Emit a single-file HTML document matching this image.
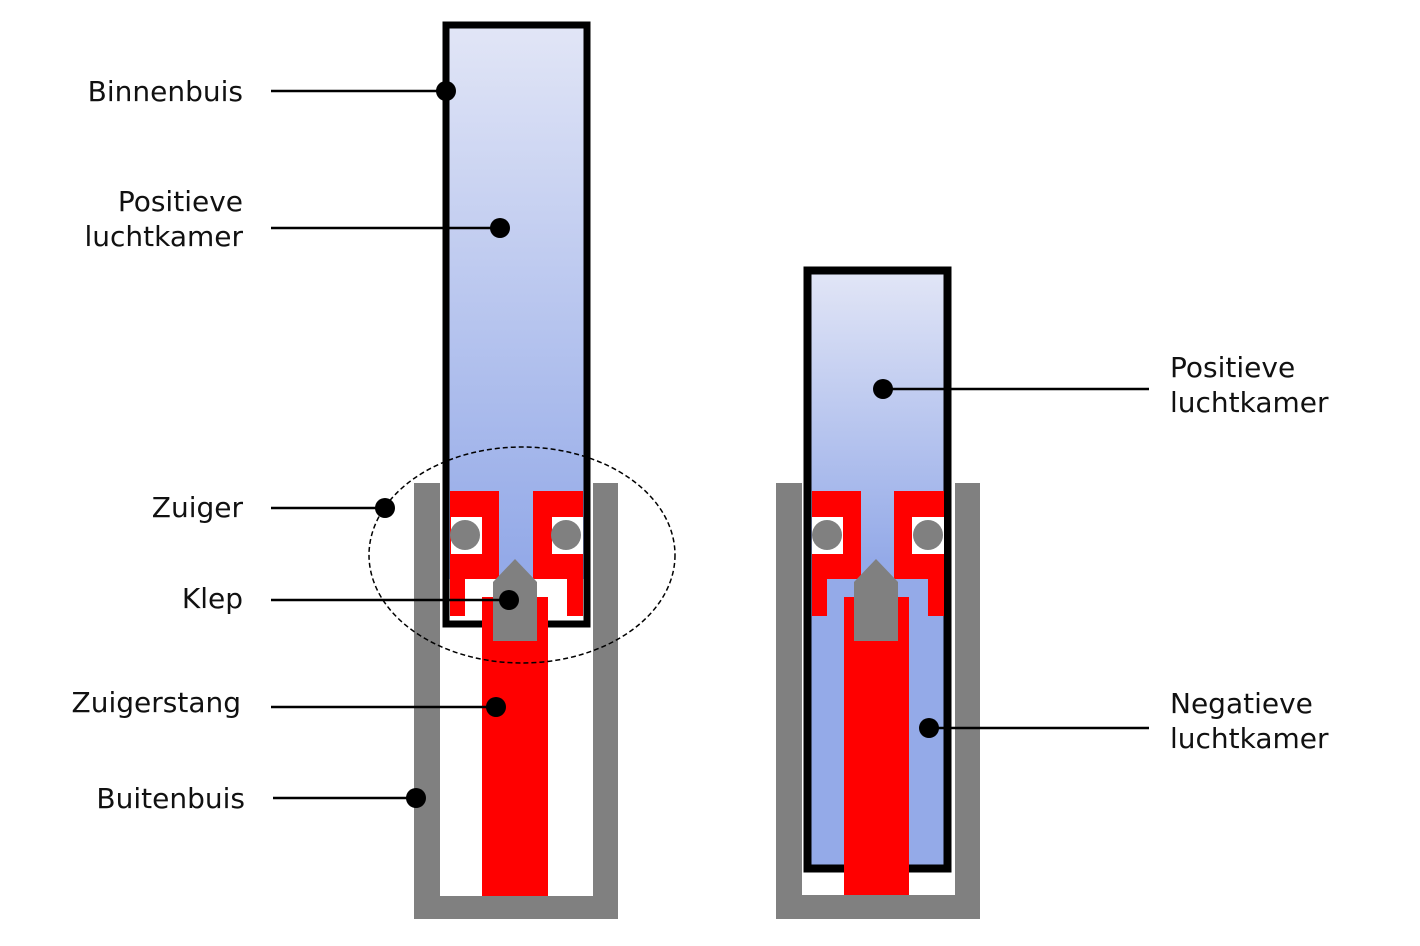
<!DOCTYPE html>
<html><head><meta charset="utf-8"><style>
html,body{margin:0;padding:0;background:#fff;}
svg{display:block;}
text{font-family:"DejaVu Sans","Liberation Sans",sans-serif;font-size:28px;fill:#111;}
</style></head><body>
<svg width="1420" height="946" viewBox="0 0 1420 946" xmlns="http://www.w3.org/2000/svg">
<defs>
<linearGradient id="g1" x1="0" y1="29" x2="0" y2="560" gradientUnits="userSpaceOnUse">
<stop offset="0" stop-color="#e1e5f6"/><stop offset="1" stop-color="#94aae8"/></linearGradient>
<linearGradient id="g2" x1="0" y1="274" x2="0" y2="560" gradientUnits="userSpaceOnUse">
<stop offset="0" stop-color="#e1e5f6"/><stop offset="1" stop-color="#94aae8"/></linearGradient>
</defs>

<!-- LEFT FIGURE -->
<rect x="414" y="483" width="26" height="436" fill="#808080"/>
<rect x="593" y="483" width="25" height="436" fill="#808080"/>
<rect x="414" y="896" width="204" height="23" fill="#808080"/>
<rect x="446" y="25" width="141" height="599" fill="url(#g1)"/>
<rect x="449" y="579" width="135" height="43" fill="#fff"/>
<rect x="446" y="25" width="141" height="599" fill="none" stroke="#000" stroke-width="7"/>
<rect x="450" y="491" width="49" height="88" fill="#f00"/>
<rect x="533" y="491" width="50" height="88" fill="#f00"/>
<rect x="451" y="517" width="31" height="37" fill="#fff"/>
<rect x="552" y="517" width="31" height="37" fill="#fff"/>
<circle cx="465" cy="535" r="15" fill="#808080"/>
<circle cx="566" cy="535" r="15" fill="#808080"/>
<rect x="450" y="579" width="15" height="37" fill="#f00"/>
<rect x="567" y="579" width="16" height="37" fill="#f00"/>
<rect x="482" y="597" width="66" height="299" fill="#f00"/>
<polygon points="493,582 515,559 537,582 537,641 493,641" fill="#808080"/>
<ellipse cx="522" cy="555" rx="153" ry="108" fill="none" stroke="#000" stroke-width="1.5" stroke-dasharray="5,3"/>

<!-- RIGHT FIGURE -->
<rect x="776" y="483" width="26" height="436" fill="#808080"/>
<rect x="955" y="483" width="25" height="436" fill="#808080"/>
<rect x="776" y="895" width="204" height="24" fill="#808080"/>
<rect x="807.5" y="270.5" width="140" height="598" fill="url(#g2)" stroke="#000" stroke-width="8"/>
<rect x="812" y="491" width="49" height="88" fill="#f00"/>
<rect x="894" y="491" width="50" height="88" fill="#f00"/>
<rect x="812" y="517" width="31" height="37" fill="#fff"/>
<rect x="912" y="517" width="32" height="37" fill="#fff"/>
<circle cx="827" cy="535" r="15" fill="#808080"/>
<circle cx="928" cy="535" r="15" fill="#808080"/>
<rect x="812" y="579" width="15" height="37" fill="#f00"/>
<rect x="928" y="579" width="16" height="37" fill="#f00"/>
<rect x="844" y="597" width="65" height="298" fill="#f00"/>
<polygon points="854,582 876,559 898,582 898,641 854,641" fill="#808080"/>

<!-- LEADERS -->
<g stroke="#000" stroke-width="2.5">
<line x1="271" y1="91" x2="446" y2="91"/>
<line x1="271" y1="228" x2="500" y2="228"/>
<line x1="271" y1="508" x2="385" y2="508"/>
<line x1="271" y1="600" x2="509" y2="600"/>
<line x1="271" y1="707" x2="496" y2="707"/>
<line x1="273" y1="798" x2="416" y2="798"/>
<line x1="883" y1="389" x2="1149" y2="389"/>
<line x1="929" y1="728" x2="1149" y2="728"/>
</g>
<g fill="#000">
<circle cx="446" cy="91" r="10"/>
<circle cx="500" cy="228" r="10"/>
<circle cx="385" cy="508" r="10"/>
<circle cx="509" cy="600" r="10"/>
<circle cx="496" cy="707" r="10"/>
<circle cx="416" cy="798" r="10"/>
<circle cx="883" cy="389" r="10"/>
<circle cx="929" cy="728" r="10"/>
</g>

<!-- LABELS -->
<g text-anchor="end">
<text x="243" y="101">Binnenbuis</text>
<text x="243" y="211">Positieve</text>
<text x="243" y="246">luchtkamer</text>
<text x="243" y="517">Zuiger</text>
<text x="243" y="608">Klep</text>
<text x="241" y="712">Zuigerstang</text>
<text x="245" y="808">Buitenbuis</text>
</g>
<text x="1170" y="377">Positieve</text>
<text x="1170" y="412">luchtkamer</text>
<text x="1170" y="713">Negatieve</text>
<text x="1170" y="748">luchtkamer</text>
</svg>
</body></html>
